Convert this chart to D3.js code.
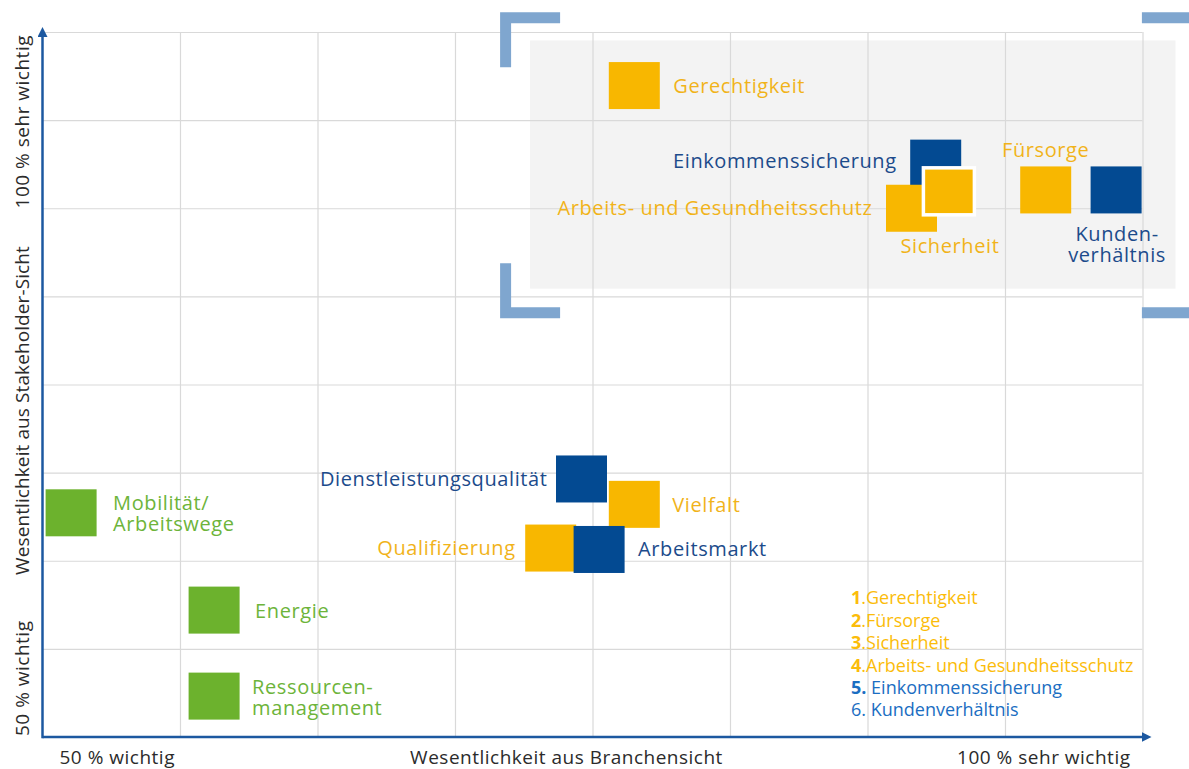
<!DOCTYPE html>
<html>
<head>
<meta charset="utf-8">
<script src="https://cdn.jsdelivr.net/npm/d3@7"></script>
<style>
    body { margin: 0; background: #fff; }
    svg text { font-family: "Open Sans", sans-serif; }
</style>
</head>
<body>
<div id="chart"></div>
<script>
/*
Wesentlichkeitsmatrix: Branchensicht (x) gegen Stakeholder-Sicht (y), in %
*/

// topics
var topics = ["Gerechtigkeit", "Einkommenssicherung", "Arbeits- und Gesundheitsschutz",
              "Sicherheit", "Fürsorge", "Kundenverhältnis", "Dienstleistungsqualität",
              "Vielfalt", "Qualifizierung", "Arbeitsmarkt", "Mobilität/Arbeitswege",
              "Energie", "Ressourcenmanagement"];
// label text, split over lines
var topicLines = [["Gerechtigkeit"], ["Einkommenssicherung"], ["Arbeits- und Gesundheitsschutz"],
                  ["Sicherheit"], ["Fürsorge"], ["Kunden-", "verhältnis"], ["Dienstleistungsqualität"],
                  ["Vielfalt"], ["Qualifizierung"], ["Arbeitsmarkt"], ["Mobilität/", "Arbeitswege"],
                  ["Energie"], ["Ressourcen-", "management"]];
// importance from the industry view (x) and the stakeholder view (y)
var branche     = [76.9, 90.6, 89.5, 91.2, 95.6, 98.8, 74.5, 76.9, 73.1, 75.3, 51.3, 57.8, 57.8];
var stakeholder = [96.2, 90.7, 87.5, 88.7, 88.8, 88.8, 68.3, 66.5, 63.4, 63.3, 65.9, 59.0, 52.9];
var dimension   = ["sozial", "oekonomisch", "sozial", "sozial", "sozial", "oekonomisch", "oekonomisch",
                   "sozial", "sozial", "oekonomisch", "oekologisch", "oekologisch", "oekologisch"];
// the topics with a white frame
var framed = ["Sicherheit"];

// grid
var xTicks = [56.25, 62.5, 68.75, 75, 81.25, 87.5, 93.75, 100];
var yTicks = [56.25, 62.5, 68.75, 75, 81.25, 87.5, 93.75, 100];

// axis texts
var xAxisTexts = ["50 % wichtig", "Wesentlichkeit aus Branchensicht", "100 % sehr wichtig"];
var yAxisTexts = ["50 % wichtig", "Wesentlichkeit aus Stakeholder-Sicht", "100 %  sehr wichtig"];

// legend
var legendNum  = ["1", "2", "3", "4", "5.", "6."];
var legendText = [".Gerechtigkeit", ".Fürsorge", ".Sicherheit", ".Arbeits- und Gesundheitsschutz",
                  " Einkommenssicherung", " Kundenverhältnis"];
var legendBold = [true, true, true, true, true, false];
var legendDim  = ["sozial", "sozial", "sozial", "sozial", "oekonomisch", "oekonomisch"];

// most important area (in %) and the bracket frame around it
var focusArea = {x0: 72.16, x1: 101.5, y0: 81.8, y1: 99.4};
var focusFrame = {x0: 70.8, x1: 102.7, y0: 79.7, y1: 101.4};


var squareColour = {sozial: "#f8b700", oekonomisch: "#034a92", oekologisch: "#6cb22d"};
var textColour = {sozial: "#f1b31a", oekonomisch: "#1c4b8b", oekologisch: "#6db43a"};
var legendColour = {sozial: "#fbbc0a", oekonomisch: "#1b6ec2"};

// where each label sits relative to its square centre
var labelPlace = {
    "Gerechtigkeit": {anchor: "start", dx: 39, dy: 0},
    "Einkommenssicherung": {anchor: "end", dx: -39, dy: -2},
    "Arbeits- und Gesundheitsschutz": {anchor: "end", dx: -39, dy: 0},
    "Sicherheit": {anchor: "middle", dx: 1, dy: 55},
    "Fürsorge": {anchor: "middle", dx: 0, dy: -40},
    "Kundenverhältnis": {anchor: "middle", dx: 1, dy: 44},
    "Dienstleistungsqualität": {anchor: "end", dx: -34, dy: 0},
    "Vielfalt": {anchor: "start", dx: 38, dy: 1},
    "Qualifizierung": {anchor: "end", dx: -35, dy: 0},
    "Arbeitsmarkt": {anchor: "start", dx: 39, dy: 0},
    "Mobilität/Arbeitswege": {anchor: "start", dx: 42, dy: -10},
    "Energie": {anchor: "start", dx: 41, dy: 1},
    "Ressourcenmanagement": {anchor: "start", dx: 38, dy: -9}
};

var width = 1189, height = 769;
var sqW = 51, sqH = 47;

var data = topics.map(function(t, i){
    return {name: t, lines: topicLines[i], x: branche[i], y: stakeholder[i], dim: dimension[i]};
});

var xScale = d3.scaleLinear().domain([50, 100]).range([42.5, 1142.5]),
    yScale = d3.scaleLinear().domain([50, 100]).range([737, 32]);

var svg = d3.select("#chart")
            .append("svg")
            .attr("width", width)
            .attr("height", height);

// grey background of the focus area
svg.append("rect")
    .attr("x", xScale(focusArea.x0))
    .attr("y", yScale(focusArea.y1))
    .attr("width", xScale(focusArea.x1) - xScale(focusArea.x0))
    .attr("height", yScale(focusArea.y0) - yScale(focusArea.y1))
    .style("fill", "#f3f3f3");

// grid lines
svg.append("g")
    .attr("class", "grid")
    .attr("transform", "translate(0," + yScale(50) + ")")
    .call(d3.axisBottom(xScale).tickValues(xTicks).tickSize(-(yScale(50) - yScale(100))).tickFormat(""));
svg.append("g")
    .attr("class", "grid")
    .attr("transform", "translate(" + xScale(50) + ",0)")
    .call(d3.axisLeft(yScale).tickValues(yTicks).tickSize(-(xScale(100) - xScale(50))).tickFormat(""));
svg.selectAll(".grid .domain").remove();
svg.selectAll(".grid line").style("stroke", "#d9d9d9").style("stroke-width", 1.2);

// brackets round the focus area
var fx0 = xScale(focusFrame.x0), fx1 = xScale(focusFrame.x1),
    fy0 = yScale(focusFrame.y1), fy1 = yScale(focusFrame.y0);
var t = 11, armX = 60, armY = 55;
var bracketPath = [
    // top left
    "M" + fx0 + "," + fy0 + "h" + armX + "v" + t + "h" + (t - armX) + "v" + (armY - t) + "h" + (-t) + "Z",
    // bottom left
    "M" + fx0 + "," + fy1 + "h" + armX + "v" + (-t) + "h" + (t - armX) + "v" + (t - armY) + "h" + (-t) + "Z",
    // top right
    "M" + fx1 + "," + fy0 + "h" + (-armX) + "v" + t + "h" + (armX - t) + "v" + (armY - t) + "h" + t + "Z",
    // bottom right
    "M" + fx1 + "," + fy1 + "h" + (-armX) + "v" + (-t) + "h" + (armX - t) + "v" + (t - armY) + "h" + t + "Z"
];
svg.selectAll(".bracket")
    .data(bracketPath)
    .enter().append("path")
    .attr("class", "bracket")
    .attr("d", function(d){ return d; })
    .style("fill", "#7fa6cf");

// axes with arrows
var axisColour = "#1c58a0";
svg.append("defs").append("marker")
    .attr("id", "arrow")
    .attr("viewBox", "0 0 10 10")
    .attr("refX", 2).attr("refY", 5)
    .attr("markerWidth", 4).attr("markerHeight", 4)
    .attr("orient", "auto")
    .append("path")
    .attr("d", "M0,0L10,5L0,10Z")
    .style("fill", axisColour);

svg.append("line")
    .attr("x1", xScale(50)).attr("y1", yScale(50))
    .attr("x2", xScale(100) + 1).attr("y2", yScale(50))
    .attr("marker-end", "url(#arrow)")
    .style("stroke", axisColour).style("stroke-width", 2.5);
svg.append("line")
    .attr("x1", xScale(50)).attr("y1", yScale(50) + 1.2)
    .attr("x2", xScale(50)).attr("y2", yScale(100) + 3)
    .attr("marker-end", "url(#arrow)")
    .style("stroke", axisColour).style("stroke-width", 2.5);

// axis texts
var axisText = svg.append("g")
    .style("font-size", "19px")
    .style("letter-spacing", "0.5px")
    .style("fill", "#2b2b2b")
    .style("white-space", "pre");
axisText.append("text").attr("x", xScale(50) + 17).attr("y", 763.5).text(xAxisTexts[0]);
axisText.append("text").attr("x", xScale(75) - 26).attr("y", 763.5).attr("text-anchor", "middle").text(xAxisTexts[1]);
axisText.append("text").attr("x", xScale(100) - 12).attr("y", 763.5).attr("text-anchor", "end").text(xAxisTexts[2]);

axisText.append("text")
    .attr("transform", "translate(29," + (yScale(50) - 1) + ") rotate(-90)")
    .text(yAxisTexts[0]);
axisText.append("text")
    .attr("transform", "translate(29," + (yScale(75) + 26) + ") rotate(-90)")
    .attr("text-anchor", "middle")
    .style("letter-spacing", "0.1px")
    .text(yAxisTexts[1]);
axisText.append("text")
    .attr("transform", "translate(29," + (yScale(100) + 3) + ") rotate(-90)")
    .attr("text-anchor", "end")
    .text(yAxisTexts[2]);

// squares
svg.selectAll(".topic")
    .data(data)
    .enter().append("rect")
    .attr("class", "topic")
    .attr("x", function(d){ return xScale(d.x) - sqW / 2; })
    .attr("y", function(d){ return yScale(d.y) - sqH / 2; })
    .attr("width", sqW)
    .attr("height", sqH)
    .style("fill", function(d){ return squareColour[d.dim]; })
    .style("stroke", function(d){ return framed.indexOf(d.name) >= 0 ? "#fff" : "none"; })
    .style("stroke-width", 3.5);

// labels
var labels = svg.selectAll(".label")
    .data(data)
    .enter().append("text")
    .attr("class", "label")
    .attr("text-anchor", function(d){ return labelPlace[d.name].anchor; })
    .style("font-size", "20px")
    .style("letter-spacing", "0.6px")
    .style("fill", function(d){ return textColour[d.dim]; });

labels.selectAll("tspan")
    .data(function(d){
        var p = labelPlace[d.name];
        return d.lines.map(function(l, i){
            return {text: l, x: xScale(d.x) + p.dx, y: yScale(d.y) + p.dy + i * 21};
        });
    })
    .enter().append("tspan")
    .attr("x", function(d){ return d.x; })
    .attr("y", function(d){ return d.y; })
    .attr("dy", "0.35em")
    .text(function(d){ return d.text; });

// legend
var legend = svg.append("g")
    .attr("transform", "translate(851,598)")
    .style("font-family", "Roboto, sans-serif")
    .style("font-size", "18px");

var items = legend.selectAll(".legendItem")
    .data(legendNum)
    .enter().append("text")
    .attr("class", "legendItem")
    .attr("y", function(d, i){ return i * 22.4; })
    .attr("dy", "0.35em")
    .style("fill", function(d, i){ return legendColour[legendDim[i]]; });

items.append("tspan")
    .style("font-weight", function(d, i){ return legendBold[i] ? "bold" : "normal"; })
    .text(function(d){ return d; });
items.append("tspan")
    .style("white-space", "pre")
    .text(function(d, i){ return legendText[i]; });
</script>
</body>
</html>
